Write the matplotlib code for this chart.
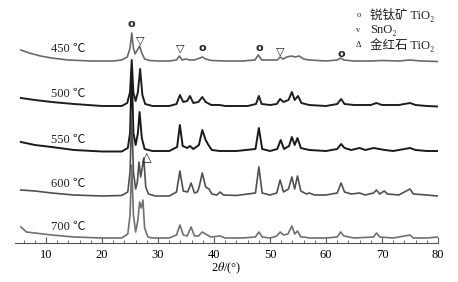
import matplotlib
matplotlib.use("Agg")
import matplotlib.pyplot as plt
from matplotlib.ticker import MultipleLocator

plt.rcParams['font.family'] = ['Liberation Serif', 'Noto Sans CJK SC', 'DejaVu Sans']
plt.rcParams['mathtext.fontset'] = 'stix'

# XRD patterns: 2theta (deg) and height above each curve's baseline
tt_450 = [5.5, 7, 9, 11, 14, 18, 22, 23.5, 24.5, 25.0, 25.3, 25.6, 25.9, 26.3, 26.7, 27.1, 27.6, 28.5, 30, 32,
          33.3, 33.8, 34.3, 35, 35.6, 36.5, 37.5, 37.9, 38.5, 39.5, 42, 45, 47.3, 47.9, 48.5, 50, 51.3, 51.8,
          52.3, 53, 53.8, 54.5, 55.2, 56, 57, 60, 62, 62.6, 63.2, 65, 68, 70, 73, 75, 77, 80]
i_450 = [12, 9, 6, 4, 2, 1, 1, 2, 5, 14, 29, 14, 8, 12, 16, 9, 3, 1.5, 1, 1,
         2, 6, 2, 3, 2, 2, 4, 5, 3, 1.5, 1, 1, 2, 7, 2, 2, 2, 5,
         3, 5, 6, 5, 6, 3, 2, 1, 2, 4, 2, 1, 1, 1.5, 1, 2, 1, 0.5]

tt_500 = [5.5, 8, 11, 15, 20, 23.5, 24.5, 25.0, 25.3, 25.6, 26.0, 26.4, 26.8, 27.2, 27.7, 29, 32, 33.3, 33.9,
          34.5, 35.2, 35.7, 36.3, 37.2, 37.9, 38.5, 39.5, 41, 42, 46, 47.5, 48.0, 48.5, 50, 51.2, 51.8, 52.4,
          53.3, 53.9, 54.4, 55.0, 55.6, 57, 60, 62, 62.7, 63.3, 65, 68, 69, 70, 73, 75, 76, 78, 80]
i_500 = [9, 7, 5, 3, 1, 1, 4, 15, 47, 14, 6, 15, 38, 12, 3, 1, 1, 3, 12,
         5, 6, 11, 4, 5, 10, 5, 2, 2, 1, 1, 3, 11, 3, 2, 3, 8, 5,
         7, 15, 7, 11, 4, 2, 1, 3, 8, 3, 2, 2, 4, 2, 2, 4, 2, 1, 0.5]

tt_550 = [5.5, 8, 11, 15, 20, 23.5, 24.6, 25.0, 25.3, 25.6, 26.0, 26.4, 26.7, 27.1, 27.6, 29, 32, 33.4, 33.9,
          34.4, 35.2, 35.7, 36.3, 37.3, 37.9, 38.5, 39.0, 39.6, 41, 44, 47.4, 48.0, 48.6, 50, 51.3, 51.9, 52.5,
          53.4, 53.9, 54.4, 54.9, 55.5, 57, 60, 62, 62.7, 63.3, 64.5, 66, 67, 68.5, 69.5, 70.5, 72, 75, 76, 78, 80]
i_550 = [11, 8, 6, 3, 1.5, 1.5, 5, 20, 83, 20, 8, 20, 41, 15, 4, 2, 2, 6, 28,
         7, 5, 7, 4, 8, 23, 13, 8, 3, 2, 2, 4, 25, 4, 2, 4, 13, 4,
         7, 16, 8, 15, 5, 3, 2, 4, 9, 5, 3, 5, 3, 5, 4, 3, 2, 5, 3, 2, 2]

tt_600 = [5.5, 8, 11, 15, 20, 23.5, 24.6, 25.0, 25.3, 25.6, 26.0, 26.3, 26.6, 26.9, 27.2, 27.45, 27.8, 28.3,
          29.5, 32, 33.3, 33.9, 34.5, 35.3, 35.9, 36.5, 37.0, 37.3, 37.9, 38.5, 39.1, 39.6, 40.5, 41.1, 41.7,
          44, 47.4, 48.0, 48.6, 50, 51.2, 51.8, 52.4, 53.3, 53.9, 54.4, 54.9, 55.5, 56.5, 57, 58, 60, 62, 62.7,
          63.3, 64.5, 66, 67, 68.5, 69, 69.6, 70.4, 71, 73, 75, 75.6, 78, 80]
i_600 = [7, 6, 4, 2, 1, 1.5, 5, 25, 82, 25, 8, 15, 35, 20, 30, 39, 10, 3,
         1, 1, 5, 26, 6, 5, 14, 4, 5, 9, 24, 10, 8, 3, 2, 5, 2,
         1.5, 4, 30, 4, 2, 4, 17, 5, 8, 20, 8, 21, 6, 3, 4, 2, 2, 4, 14,
         5, 3, 4, 2, 4, 7, 3, 6, 3, 2, 8, 3, 2, 1]

tt_700 = [5.5, 6.5, 8, 11, 15, 20, 23.5, 24.6, 25.0, 25.3, 25.6, 26.0, 26.4, 26.7, 27.0, 27.3, 27.6, 28.2, 29,
          32, 33.3, 33.9, 34.5, 35.2, 35.9, 36.5, 37.2, 37.9, 38.5, 39.4, 41.1, 42, 45, 47.4, 48.0, 48.6, 50,
          51.2, 51.8, 52.4, 53.2, 53.9, 54.4, 54.9, 55.5, 56, 57, 60, 62, 62.6, 63.2, 65, 68.5, 69, 69.6, 72,
          75, 75.6, 78, 80]
i_700 = [13, 8, 7, 5, 3, 2, 2, 6, 25, 75, 25, 8, 20, 38, 32, 40, 12, 3, 2,
         2, 5, 15, 5, 4, 13, 4, 4, 8, 6, 3, 4, 2, 2, 3, 8, 3, 2,
         4, 8, 5, 6, 14, 6, 9, 3, 3, 2, 2, 3, 8, 4, 2, 3, 7, 3, 2,
         5, 2, 2, 3]

patterns = [tt_450, tt_500, tt_550, tt_600, tt_700]
intensities = [i_450, i_500, i_550, i_600, i_700]
labels = ['450 ℃', '500 ℃', '550 ℃', '600 ℃', '700 ℃']
offsets = [181, 136, 90, 46, 3]
colors = ['#6a6a6a', '#1e1e1e', '#1a1a1a', '#505050', '#707070']
widths = [1.2, 1.4, 1.4, 1.2, 1.2]

# phase markers on the 450 curve: (2theta, height, symbol)
marker_tt = [25.3, 26.9, 33.9, 37.9, 48.0, 51.8, 62.7]
marker_h = [219, 203, 195, 195, 195, 192, 189]
marker_sym = ['o', '▽', '▽', 'o', 'o', '▽', 'o']

fig = plt.figure(figsize=(4.58, 2.82), dpi=100)
ax = fig.add_axes([15 / 458, 1 - 243 / 282, 423 / 458, 243 / 282])

for tt, inten, off, c, w in zip(patterns, intensities, offsets, colors, widths):
    ax.plot(tt, [v + off for v in inten], color=c, lw=w)

for lab, off in zip(labels, offsets):
    ax.text(10.8, off + 13, lab, fontsize=9, ha='left', va='center', color='#222222')

for t, h, s in zip(marker_tt, marker_h, marker_sym):
    ax.text(t, h, s, fontsize=8, ha='center', va='center', color='#222222',
            family=['DejaVu Sans'], fontweight='bold' if s == 'o' else 'normal')

# rutile marker on the 600 curve
ax.text(28.0, 85, '△', fontsize=9, ha='center', va='center', color='#222222', family=['DejaVu Sans'])

# legend block
leg_sym = ['o', 'v', 'Δ']
leg_txt = ['锐钛矿 TiO₂', 'SnO₂', '金红石 TiO₂']
for k, (s, t) in enumerate(zip(leg_sym, leg_txt)):
    y = 228 - k * 15
    ax.text(65.8, y, s, fontsize=6, ha='center', va='center', color='#222222')
    ax.text(67.8, y, t, fontsize=9, ha='left', va='center', color='#222222')

ax.set_xlim(4.45, 80)
ax.set_ylim(0, 243)
for side in ['left', 'top', 'right']:
    ax.spines[side].set_visible(False)
ax.spines['bottom'].set_color('#555555')
ax.set_yticks([])
ax.xaxis.set_major_locator(MultipleLocator(10))
ax.xaxis.set_minor_locator(MultipleLocator(2))
ax.tick_params(axis='x', which='major', direction='in', length=4, labelsize=9, pad=4, color='#555555')
ax.tick_params(axis='x', which='minor', direction='in', length=2, color='#555555')
ax.set_xlabel('2$\\theta$/(°)', fontsize=9, labelpad=0)
ax.set_xticks([10, 20, 30, 40, 50, 60, 70, 80])

fig.savefig('out.png', dpi=100)
